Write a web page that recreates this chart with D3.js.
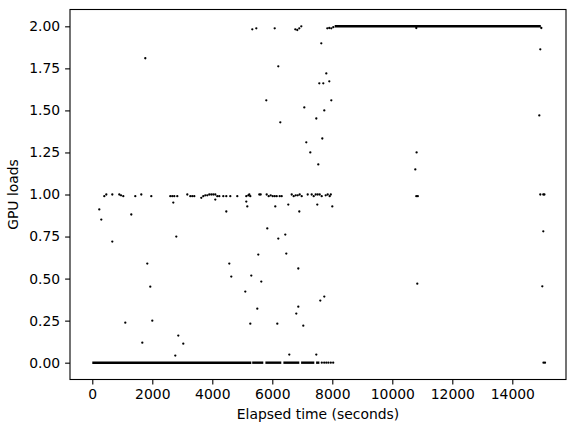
<!DOCTYPE html>
<html>
<head>
<meta charset="utf-8">
<script src="https://cdn.jsdelivr.net/npm/d3@7"></script>
<style>
  body { margin: 0; background: #fff; }
  text { font-family: "DejaVu Sans", sans-serif; }
</style>
</head>
<body>
<div id="scatter"></div>
<script>
// x ranges (seconds) where samples are so dense they form a solid band
let zeroRuns = [[0, 5300], [5330, 5700], [5770, 6300], [6370, 6900], [6960, 7400], [7460, 7570]];
let twoRuns = [[8080, 14950]];

// samples sitting close to a load of 1
let nearOne = [
  [400, 0.99], [467, 1.0], [667, 1.0], [900, 1.0], [957, 0.995], [1033, 0.99], [1433, 0.99],
  [1633, 1.0], [1967, 0.99], [2600, 0.99], [2667, 0.99], [2733, 0.99], [2833, 0.99],
  [3167, 1.0], [3267, 0.99], [3333, 0.99], [3400, 0.99], [3633, 0.98], [3700, 0.99],
  [3767, 0.995], [3833, 0.995], [3900, 1.0], [3967, 1.0], [4033, 1.0], [4100, 1.0],
  [4167, 0.99], [4233, 0.99], [4367, 0.99], [4467, 0.99], [4600, 0.99], [4833, 0.99],
  [5133, 0.99], [5200, 0.995], [5233, 1.0], [5267, 0.99], [5567, 1.0], [5613, 1.0],
  [5813, 1.0], [5880, 0.99], [5947, 0.995], [6013, 0.99], [6080, 0.99], [6147, 0.99],
  [6247, 0.99], [6313, 0.99], [6647, 1.0], [6713, 0.99], [6780, 0.995], [6847, 0.995],
  [6913, 1.0], [6980, 0.99], [7180, 1.0], [7313, 1.0], [7380, 0.99], [7447, 1.0],
  [7513, 1.0], [7580, 1.0], [7647, 0.99], [7780, 0.995], [7847, 1.0], [7913, 0.99],
  [7950, 1.0], [10800, 0.99], [10850, 0.99], [14933, 1.0], [15033, 1.0], [15070, 1.0]
];

// everything else
let scattered = [
  [233, 0.911], [300, 0.851], [667, 0.72], [1300, 0.881], [1100, 0.238], [1833, 0.589],
  [1933, 0.452], [2000, 0.25], [1667, 0.119], [1767, 1.81], [2700, 0.952], [2800, 0.75],
  [2867, 0.161], [3033, 0.113], [2767, 0.042], [4100, 0.97], [4467, 0.899], [4567, 0.589],
  [4633, 0.512], [5100, 0.423], [5267, 0.232], [5300, 0.518], [5133, 0.958], [5167, 0.929],
  [5533, 0.643], [5500, 0.321], [5333, 1.982], [5467, 1.988], [6080, 1.988], [6767, 1.982],
  [6833, 1.978], [6900, 1.988], [6967, 2.0], [7833, 1.988], [7900, 1.99], [7967, 1.988],
  [8033, 1.995], [7633, 1.899], [6200, 1.762], [7800, 1.72], [7567, 1.661], [7700, 1.661],
  [7900, 1.673], [5800, 1.56], [7967, 1.56], [7067, 1.518], [7733, 1.5], [7467, 1.452],
  [6267, 1.429], [7667, 1.333], [7133, 1.31], [7267, 1.25], [7533, 1.179],
  [6100, 0.929], [6533, 0.94], [6900, 0.899], [7500, 0.94], [8000, 0.929], [5833, 0.798],
  [6200, 0.738], [6433, 0.762], [6467, 0.649], [6867, 0.56], [5633, 0.482], [7600, 0.369],
  [7733, 0.393], [6867, 0.333], [6800, 0.292], [6167, 0.232], [7033, 0.22], [6567, 0.048],
  [7467, 0.048], [7650, 0.0], [7730, 0.0], [7800, 0.0], [7870, 0.0], [7950, 0.0], [8030, 0.0],
  [10810, 1.25], [10767, 1.149], [10833, 0.47], [10800, 1.99], [14967, 1.99], [14933, 1.863],
  [14900, 1.47], [15033, 0.781], [15000, 0.454], [15040, 0.0], [15090, 0.0]
];

let xTicks = [0, 2000, 4000, 6000, 8000, 10000, 12000, 14000];
let yTicks = [0, 0.25, 0.5, 0.75, 1.0, 1.25, 1.5, 1.75, 2.0];

let svgWidth = 576;
let svgHeight = 432;

let margin = {
  top: 9.5,
  right: 10,
  bottom: 52.5,
  left: 70
};

let width = svgWidth - margin.left - margin.right;
let height = svgHeight - margin.top - margin.bottom;

let svg = d3.select("#scatter")
  .append("svg")
  .attr("width", svgWidth)
  .attr("height", svgHeight);

let chartGroup = svg.append("g")
  .attr("transform", `translate(${margin.left}, ${margin.top})`);

// matplotlib-like 5% padding around the data
let xScale = d3.scaleLinear()
  .domain([-743, 15790])
  .range([0, width]);

let yScale = d3.scaleLinear()
  .domain([-0.1, 2.1])
  .range([height, 0]);

let xAxis = d3.axisBottom(xScale)
  .tickValues(xTicks)
  .tickFormat(d3.format("d"))
  .tickSize(4.9)
  .tickPadding(4.9);

let yAxis = d3.axisLeft(yScale)
  .tickValues(yTicks)
  .tickFormat(d3.format(".2f"))
  .tickSize(4.9)
  .tickPadding(4.9);

let gx = chartGroup.append("g")
  .attr("transform", `translate(0, ${height})`)
  .call(xAxis);

let gy = chartGroup.append("g")
  .call(yAxis);

[gx, gy].forEach(g => {
  g.select(".domain").remove();
  g.selectAll(".tick line").attr("stroke", "#000").attr("stroke-width", 1.1);
  g.selectAll(".tick text")
    .attr("fill", "#000")
    .style("font-size", "13.9px")
    .style("font-family", "'DejaVu Sans', sans-serif");
});

// dense bands
chartGroup.selectAll(".zeroRun")
  .data(zeroRuns)
  .enter()
  .append("line")
  .attr("x1", d => xScale(d[0]))
  .attr("x2", d => xScale(d[1]))
  .attr("y1", yScale(0))
  .attr("y2", yScale(0))
  .attr("stroke", "#000")
  .attr("stroke-width", 2.4);

chartGroup.selectAll(".twoRun")
  .data(twoRuns)
  .enter()
  .append("line")
  .attr("x1", d => xScale(d[0]))
  .attr("x2", d => xScale(d[1]))
  .attr("y1", yScale(2))
  .attr("y2", yScale(2))
  .attr("stroke", "#000")
  .attr("stroke-width", 2.6);

// individual samples
chartGroup.selectAll(".pt")
  .data(nearOne.concat(scattered))
  .enter()
  .append("circle")
  .attr("cx", d => xScale(d[0]))
  .attr("cy", d => yScale(d[1]))
  .attr("r", 1.15)
  .attr("fill", "#000");

// frame
chartGroup.append("rect")
  .attr("width", width)
  .attr("height", height)
  .attr("fill", "none")
  .attr("stroke", "#000")
  .attr("stroke-width", 1.1);

// axis labels
chartGroup.append("text")
  .attr("transform", "rotate(-90)")
  .attr("x", 0 - (height / 2))
  .attr("y", -52)
  .attr("text-anchor", "middle")
  .style("font-size", "13.9px")
  .text("GPU loads");

chartGroup.append("text")
  .attr("x", width / 2)
  .attr("y", height + 39)
  .attr("text-anchor", "middle")
  .style("font-size", "13.9px")
  .text("Elapsed time (seconds)");
</script>
</body>
</html>
